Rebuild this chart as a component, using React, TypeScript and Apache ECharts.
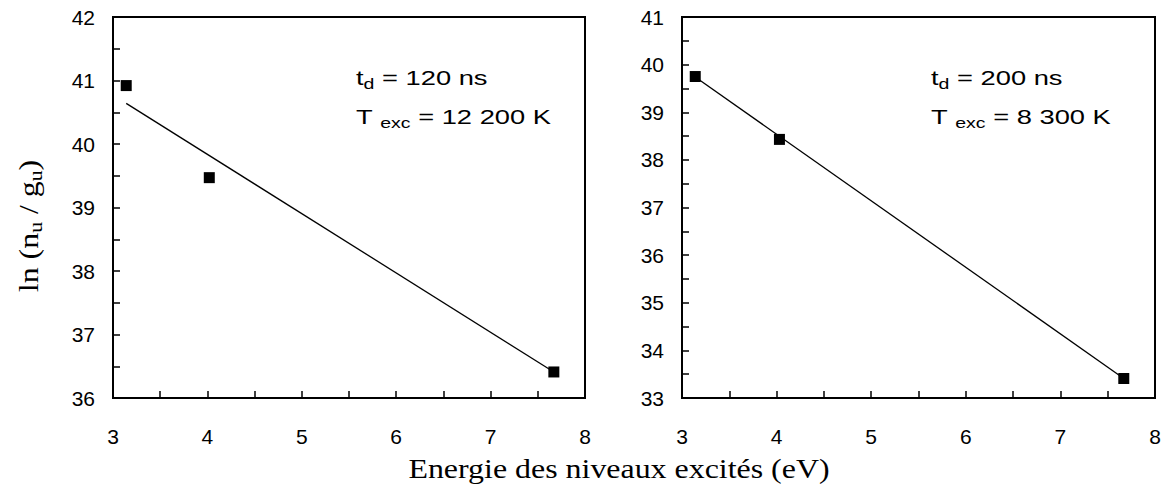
import React, { useEffect, useRef } from "react";
import * as echarts from "echarts";

// Left panel (t_d = 120 ns)
const energyLeft = [3.14, 4.02, 7.67];
const lnLeft = [40.92, 39.47, 36.41];
const fitLeftX = [3.14, 7.67];
const fitLeftY = [40.64, 36.41];

// Right panel (t_d = 200 ns)
const energyRight = [3.14, 4.03, 7.67];
const lnRight = [39.75, 38.43, 33.41];
const fitRightX = [3.14, 7.67];
const fitRightY = [39.74, 33.41];

const xRange = [3, 8];
const yRangeLeft = [36, 42];
const yRangeRight = [33, 41];

const labelsLeft = ["120 ns", "12 200 K"];
const labelsRight = ["200 ns", "8 300 K"];

const SANS = "'Liberation Sans', Arial, sans-serif";
const SERIF = "'Liberation Serif', 'Times New Roman', serif";

export default function App() {
  const ref = useRef<HTMLDivElement>(null);
  useEffect(() => {
    if (!ref.current) return;
    const chart = echarts.init(ref.current, null, { renderer: "svg" });

    const axisCommon = {
      axisLine: { show: true, onZero: false, lineStyle: { color: "#000", width: 2 } },
      axisTick: { show: true, inside: true, length: 7, lineStyle: { color: "#000", width: 1.5 } },
      minorTick: { show: true, splitNumber: 2, length: 7, lineStyle: { color: "#000", width: 1.5 } },
      splitLine: { show: false },
      axisLabel: { color: "#000", fontFamily: SANS, fontSize: 21 },
    };

    const xAxisDef = (gi: number) => ({
      type: "value",
      gridIndex: gi,
      min: xRange[0],
      max: xRange[1],
      interval: 1,
      ...axisCommon,
      axisLabel: { ...axisCommon.axisLabel, margin: 28 },
    });
    const yAxisDef = (gi: number, r: number[]) => ({
      type: "value",
      gridIndex: gi,
      min: r[0],
      max: r[1],
      interval: 1,
      ...axisCommon,
      axisLabel: { ...axisCommon.axisLabel, margin: 18 },
    });

    const scatter = (gi: number, xs: number[], ys: number[]) => ({
      type: "scatter",
      xAxisIndex: gi,
      yAxisIndex: gi,
      symbol: "rect",
      symbolSize: 11,
      itemStyle: { color: "#000", opacity: 1 },
      data: xs.map((x, i) => [x, ys[i]]),
      z: 3,
    });
    const fit = (gi: number, xs: number[], ys: number[]) => ({
      type: "line",
      xAxisIndex: gi,
      yAxisIndex: gi,
      symbol: "none",
      lineStyle: { color: "#000", width: 1.3 },
      data: xs.map((x, i) => [x, ys[i]]),
      z: 2,
    });

    const rich = {
      a: { fontFamily: SANS, fontSize: 21, color: "#000" },
      s: { fontFamily: SANS, fontSize: 15, color: "#000", padding: [12, 0, 0, 0] },
    };

    const annot = (x: number, labels: string[]) => [
      {
        type: "text",
        x,
        y: 78,
        scaleX: 1.3,
        style: { text: `{a|t}{s|d}{a| = ${labels[0]}}`, rich, align: "left", verticalAlign: "middle" },
      },
      {
        type: "text",
        x,
        y: 117,
        scaleX: 1.3,
        style: { text: `{a|T }{s|exc}{a| = ${labels[1]}}`, rich, align: "left", verticalAlign: "middle" },
      },
    ];

    const serifRich = {
      a: { fontFamily: SERIF, fontSize: 28, color: "#000" },
      s: { fontFamily: SERIF, fontSize: 19, color: "#000", padding: [14, 0, 0, 0] },
    };

    chart.setOption({
      animation: false,
      backgroundColor: "#fff",
      grid: [
        { left: 113, top: 17, width: 472, height: 381, show: true, borderColor: "#000", borderWidth: 2 },
        { left: 682, top: 17, width: 473, height: 381, show: true, borderColor: "#000", borderWidth: 2 },
      ],
      xAxis: [xAxisDef(0), xAxisDef(1)],
      yAxis: [yAxisDef(0, yRangeLeft), yAxisDef(1, yRangeRight)],
      series: [
        fit(0, fitLeftX, fitLeftY),
        scatter(0, energyLeft, lnLeft),
        fit(1, fitRightX, fitRightY),
        scatter(1, energyRight, lnRight),
      ],
      graphic: [
        ...annot(356, labelsLeft),
        ...annot(931, labelsRight),
        {
          type: "text",
          x: 619,
          y: 468,
          scaleX: 1.14,
          style: {
            text: "Energie des niveaux excités (eV)",
            fontFamily: SERIF,
            fontSize: 28,
            fill: "#000",
            align: "center",
            verticalAlign: "middle",
          },
        },
        {
          type: "text",
          x: 28,
          y: 226,
          rotation: Math.PI / 2,
          scaleX: 1.14,
          style: {
            text: "{a|ln (n}{s|u}{a| / g}{s|u}{a|)}",
            rich: serifRich,
            align: "center",
            verticalAlign: "middle",
          },
        },
      ],
    });
    return () => chart.dispose();
  }, []);
  return (
    <div
      ref={ref}
      style={{ position: "fixed", left: 0, top: 0, width: 1168, height: 490, background: "#fff" }}
    />
  );
}
